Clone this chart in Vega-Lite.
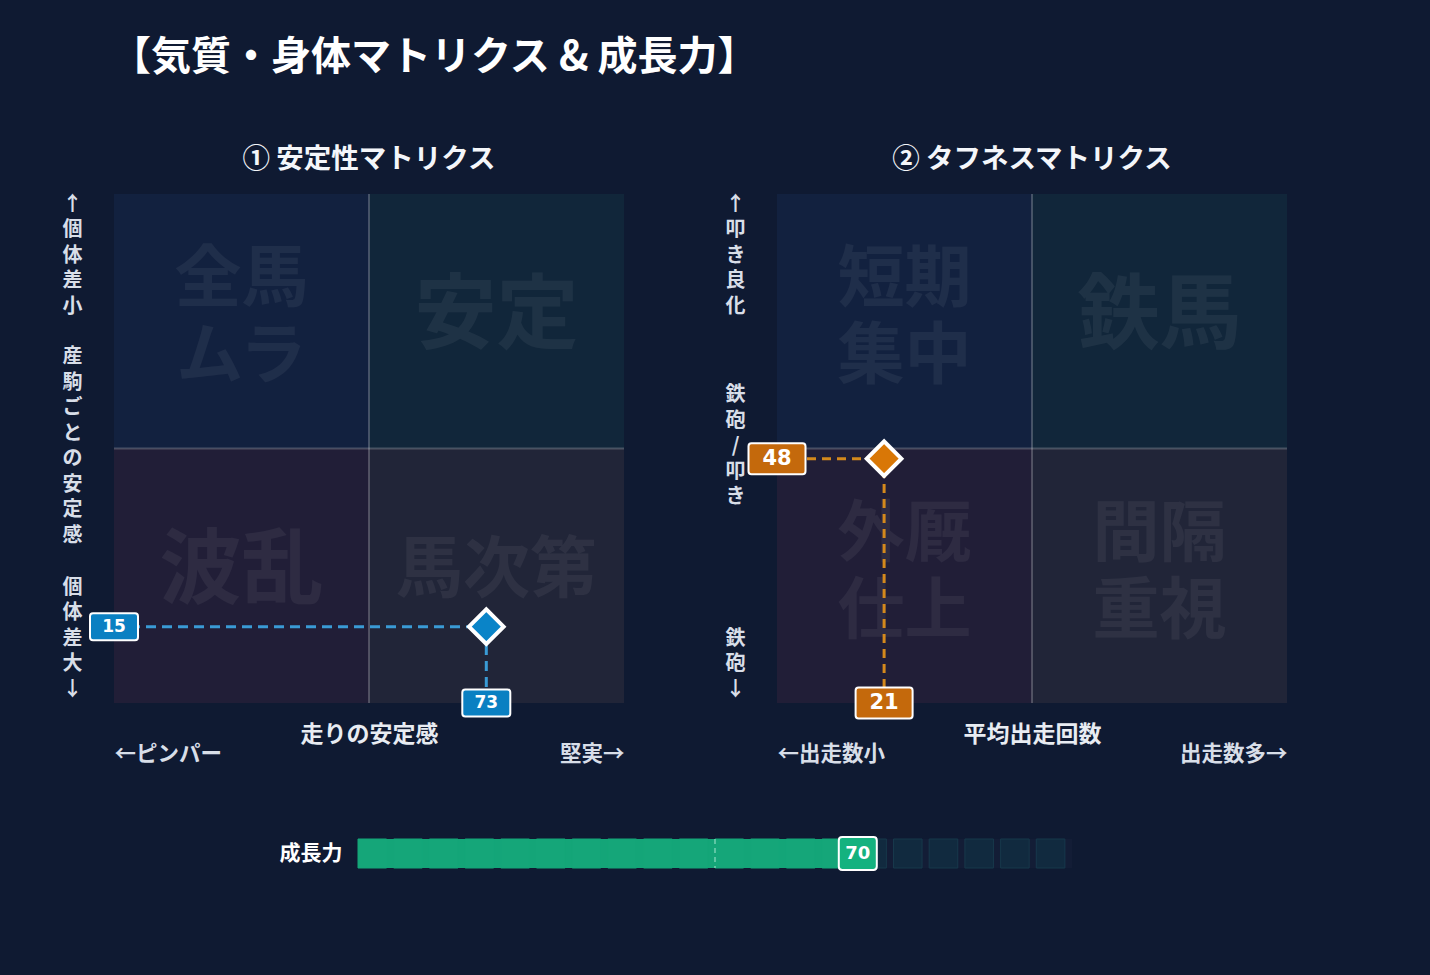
{
  "$schema": "https://vega.github.io/schema/vega-lite/v6.json",
  "background": "#0f1a32",
  "padding": {"left": 62, "top": 37, "right": 143, "bottom": 112},
  "title": {"text": "【気質・身体マトリクス & 成長力】", "anchor": "start", "frame": "group", "font": "Noto Sans CJK JP", "fontSize": 40, "fontWeight": "bold", "color": "#ffffff", "offset": 36, "dx": -3, "baseline": "alphabetic"},
  "config": {
    "view": {"stroke": null},
    "axis": {"grid": false, "domain": false, "ticks": false, "tickSize": 0, "labelFont": "Noto Sans CJK JP", "labelFontWeight": "bold", "labelFontSize": 20, "labelColor": "#d8dee8", "titleFont": "Noto Sans CJK JP", "titleFontWeight": "bold", "titleFontSize": 23, "titleColor": "#e8ecf2", "labelOverlap": false, "labelBound": false, "labelLimit": 400}
  },
  "spacing": 68,
  "vconcat": [
    {
      "bounds": "flush",
      "spacing": 153,
      "hconcat": [
        {
          "width": 510, "height": 509,
          "title": {"text": "① 安定性マトリクス", "frame": "group", "anchor": "middle", "font": "Noto Sans CJK JP", "fontSize": 27.5, "fontWeight": "bold", "color": "#f4f6fa", "offset": -2, "baseline": "alphabetic"},
          "data": {"values": [{"x": 73, "y": 15, "origin": 0, "mid": 50}]},
          "layer": [
            {
              "data": {"values": [
                {"quad": "TL", "label": "全馬\nムラ", "x0": 0, "x1": 50, "y0": 50, "y1": 100, "cx": 25, "cy": 75},
                {"quad": "TR", "label": "安定", "x0": 50, "x1": 100, "y0": 50, "y1": 100, "cx": 75, "cy": 75},
                {"quad": "BL", "label": "波乱", "x0": 0, "x1": 50, "y0": 0, "y1": 50, "cx": 25, "cy": 25},
                {"quad": "BR", "label": "馬次第", "x0": 50, "x1": 100, "y0": 0, "y1": 50, "cx": 75, "cy": 25}
              ]},
              "layer": [
                {
                  "mark": {"type": "rect"},
                  "encoding": {
                    "x": {"field": "x0", "type": "quantitative", "scale": {"domain": [0, 100], "nice": false, "zero": false},
                      "axis": {"values": [0, 100], "labelExpr": "datum.value == 0 ? '←ピンパー' : '堅実→'", "labelFlush": true, "labelPadding": 51, "labelBaseline": "middle", "labelFontSize": 21.5, "title": "走りの安定感", "titleY": 31, "titleBaseline": "middle"}},
                    "x2": {"field": "x1"},
                    "y": {"field": "y0", "type": "quantitative", "scale": {"domain": [0, 100], "nice": false, "zero": false},
                      "axis": {"values": [0, 50, 100], "labelExpr": "datum.value == 100 ? split('↑個体差小', '') : datum.value == 50 ? split('産駒ごとの安定感', '') : split('個体差大↓', '')", "labelFlush": false, "labelBaseline": "top", "labelAlign": "center", "labelPadding": 42, "labelLineHeight": 25.5, "labelOffset": {"condition": [{"test": "datum.value == 50", "value": -102}, {"test": "datum.value == 0", "value": -126}], "value": 0}, "title": null}},
                    "y2": {"field": "y1"},
                    "color": {"field": "quad", "type": "nominal", "scale": {"domain": ["TL", "TR", "BL", "BR"], "range": ["#12213f", "#11263a", "#211e37", "#212538"]}, "legend": null}
                  }
                },
                {
                  "transform": [{"filter": "length(datum.label) < 5"}],
                  "mark": {"type": "text", "font": "Noto Sans CJK JP", "fontWeight": "bold", "color": "#ffffff", "opacity": 0.055, "baseline": "middle", "align": "center", "dy": -4},
                  "encoding": {
                    "x": {"field": "cx", "type": "quantitative"},
                    "y": {"field": "cy", "type": "quantitative"},
                    "text": {"field": "label"},
                    "size": {"condition": {"test": "length(datum.label) == 2", "value": 82}, "value": 67}
                  }
                },
                {
                  "transform": [{"filter": "length(datum.label) == 5"}],
                  "mark": {"type": "text", "font": "Noto Sans CJK JP", "fontWeight": "bold", "color": "#ffffff", "opacity": 0.055, "lineBreak": "\n", "lineHeight": 77, "baseline": "middle", "align": "center", "dy": -40, "fontSize": 67},
                  "encoding": {
                    "x": {"field": "cx", "type": "quantitative"},
                    "y": {"field": "cy", "type": "quantitative"},
                    "text": {"field": "label"}
                  }
                }
              ]
            },
            {"mark": {"type": "rule", "color": "#ffffff", "opacity": 0.22, "strokeWidth": 2}, "encoding": {"x": {"field": "mid", "type": "quantitative"}}},
            {"mark": {"type": "rule", "color": "#ffffff", "opacity": 0.22, "strokeWidth": 2}, "encoding": {"y": {"field": "mid", "type": "quantitative"}}},
            {"mark": {"type": "rule", "color": "#3a9bd5", "strokeWidth": 3, "strokeDash": [10, 6]}, "encoding": {"x": {"field": "origin", "type": "quantitative"}, "x2": {"field": "x"}, "y": {"field": "y", "type": "quantitative"}}},
            {"mark": {"type": "rule", "color": "#3a9bd5", "strokeWidth": 3, "strokeDash": [10, 6]}, "encoding": {"x": {"field": "x", "type": "quantitative"}, "y": {"field": "origin", "type": "quantitative"}, "y2": {"field": "y"}}},
            {"mark": {"type": "point", "shape": "diamond", "size": 1200, "filled": true, "fill": "#0a84c8", "stroke": "#ffffff", "strokeWidth": 4, "opacity": 1}, "encoding": {"x": {"field": "x", "type": "quantitative"}, "y": {"field": "y", "type": "quantitative"}}},
            {"mark": {"type": "point", "shape": "M-0.875,-0.5625L0.875,-0.5625Q1,-0.5625 1,-0.4375L1,0.4375Q1,0.5625 0.875,0.5625L-0.875,0.5625Q-1,0.5625 -1,0.4375L-1,-0.4375Q-1,-0.5625 -0.875,-0.5625Z", "size": 2304, "filled": true, "fill": "#0a80c2", "stroke": "#ffffff", "strokeWidth": 2, "opacity": 1}, "encoding": {"x": {"field": "origin", "type": "quantitative"}, "y": {"field": "y", "type": "quantitative"}}},
            {"mark": {"type": "text", "font": "DejaVu Sans", "fontWeight": "bold", "fontSize": 17, "color": "#ffffff", "baseline": "middle", "align": "center"}, "encoding": {"x": {"field": "origin", "type": "quantitative"}, "y": {"field": "y", "type": "quantitative"}, "text": {"field": "y", "type": "quantitative"}}},
            {"mark": {"type": "point", "shape": "M-0.875,-0.5625L0.875,-0.5625Q1,-0.5625 1,-0.4375L1,0.4375Q1,0.5625 0.875,0.5625L-0.875,0.5625Q-1,0.5625 -1,0.4375L-1,-0.4375Q-1,-0.5625 -0.875,-0.5625Z", "size": 2304, "filled": true, "fill": "#0a80c2", "stroke": "#ffffff", "strokeWidth": 2, "opacity": 1}, "encoding": {"x": {"field": "x", "type": "quantitative"}, "y": {"field": "origin", "type": "quantitative"}}},
            {"mark": {"type": "text", "font": "DejaVu Sans", "fontWeight": "bold", "fontSize": 17, "color": "#ffffff", "baseline": "middle", "align": "center"}, "encoding": {"x": {"field": "x", "type": "quantitative"}, "y": {"field": "origin", "type": "quantitative"}, "text": {"field": "x", "type": "quantitative"}}}
          ]
        },
        {
          "width": 510, "height": 509,
          "title": {"text": "② タフネスマトリクス", "frame": "group", "anchor": "middle", "font": "Noto Sans CJK JP", "fontSize": 27.5, "fontWeight": "bold", "color": "#f4f6fa", "offset": -2, "baseline": "alphabetic"},
          "data": {"values": [{"x": 21, "y": 48, "origin": 0, "mid": 50}]},
          "layer": [
            {
              "data": {"values": [
                {"quad": "TL", "label": "短期\n集中", "x0": 0, "x1": 50, "y0": 50, "y1": 100, "cx": 25, "cy": 75},
                {"quad": "TR", "label": "鉄馬", "x0": 50, "x1": 100, "y0": 50, "y1": 100, "cx": 75, "cy": 75},
                {"quad": "BL", "label": "外厩\n仕上", "x0": 0, "x1": 50, "y0": 0, "y1": 50, "cx": 25, "cy": 25},
                {"quad": "BR", "label": "間隔\n重視", "x0": 50, "x1": 100, "y0": 0, "y1": 50, "cx": 75, "cy": 25}
              ]},
              "layer": [
                {
                  "mark": {"type": "rect"},
                  "encoding": {
                    "x": {"field": "x0", "type": "quantitative", "scale": {"domain": [0, 100], "nice": false, "zero": false},
                      "axis": {"values": [0, 100], "labelExpr": "datum.value == 0 ? '←出走数小' : '出走数多→'", "labelFlush": true, "labelPadding": 51, "labelBaseline": "middle", "labelFontSize": 21.5, "title": "平均出走回数", "titleY": 31, "titleBaseline": "middle"}},
                    "x2": {"field": "x1"},
                    "y": {"field": "y0", "type": "quantitative", "scale": {"domain": [0, 100], "nice": false, "zero": false},
                      "axis": {"values": [0, 50, 100], "labelExpr": "datum.value == 100 ? split('↑叩き良化', '') : datum.value == 50 ? split('鉄砲/叩き', '') : split('鉄砲↓', '')", "labelFlush": false, "labelBaseline": "top", "labelAlign": "center", "labelPadding": 42, "labelLineHeight": 25.5, "labelOffset": {"condition": [{"test": "datum.value == 50", "value": -64}, {"test": "datum.value == 0", "value": -75}], "value": 0}, "title": null}},
                    "y2": {"field": "y1"},
                    "color": {"field": "quad", "type": "nominal", "scale": {"domain": ["TL", "TR", "BL", "BR"], "range": ["#12213f", "#11263a", "#211e37", "#212538"]}, "legend": null}
                  }
                },
                {
                  "transform": [{"filter": "length(datum.label) < 5"}],
                  "mark": {"type": "text", "font": "Noto Sans CJK JP", "fontWeight": "bold", "color": "#ffffff", "opacity": 0.055, "baseline": "middle", "align": "center", "dy": -4},
                  "encoding": {
                    "x": {"field": "cx", "type": "quantitative"},
                    "y": {"field": "cy", "type": "quantitative"},
                    "text": {"field": "label"},
                    "size": {"condition": {"test": "length(datum.label) == 2", "value": 82}, "value": 67}
                  }
                },
                {
                  "transform": [{"filter": "length(datum.label) == 5"}],
                  "mark": {"type": "text", "font": "Noto Sans CJK JP", "fontWeight": "bold", "color": "#ffffff", "opacity": 0.055, "lineBreak": "\n", "lineHeight": 77, "baseline": "middle", "align": "center", "dy": -40, "fontSize": 67},
                  "encoding": {
                    "x": {"field": "cx", "type": "quantitative"},
                    "y": {"field": "cy", "type": "quantitative"},
                    "text": {"field": "label"}
                  }
                }
              ]
            },
            {"mark": {"type": "rule", "color": "#ffffff", "opacity": 0.22, "strokeWidth": 2}, "encoding": {"x": {"field": "mid", "type": "quantitative"}}},
            {"mark": {"type": "rule", "color": "#ffffff", "opacity": 0.22, "strokeWidth": 2}, "encoding": {"y": {"field": "mid", "type": "quantitative"}}},
            {"mark": {"type": "rule", "color": "#d4891c", "strokeWidth": 3, "strokeDash": [9, 6]}, "encoding": {"x": {"field": "origin", "type": "quantitative"}, "x2": {"field": "x"}, "y": {"field": "y", "type": "quantitative"}}},
            {"mark": {"type": "rule", "color": "#d4891c", "strokeWidth": 3, "strokeDash": [9, 6]}, "encoding": {"x": {"field": "x", "type": "quantitative"}, "y": {"field": "origin", "type": "quantitative"}, "y2": {"field": "y"}}},
            {"mark": {"type": "point", "shape": "diamond", "size": 1200, "filled": true, "fill": "#d97706", "stroke": "#ffffff", "strokeWidth": 4, "opacity": 1}, "encoding": {"x": {"field": "x", "type": "quantitative"}, "y": {"field": "y", "type": "quantitative"}}},
            {"mark": {"type": "point", "shape": "M-0.895,-0.544L0.895,-0.544Q1,-0.544 1,-0.439L1,0.439Q1,0.544 0.895,0.544L-0.895,0.544Q-1,0.544 -1,0.439L-1,-0.439Q-1,-0.544 -0.895,-0.544Z", "size": 3249, "filled": true, "fill": "#c4690c", "stroke": "#ffffff", "strokeWidth": 2, "opacity": 1}, "encoding": {"x": {"field": "origin", "type": "quantitative"}, "y": {"field": "y", "type": "quantitative"}}},
            {"mark": {"type": "text", "font": "DejaVu Sans", "fontWeight": "bold", "fontSize": 21, "color": "#ffffff", "baseline": "middle", "align": "center"}, "encoding": {"x": {"field": "origin", "type": "quantitative"}, "y": {"field": "y", "type": "quantitative"}, "text": {"field": "y", "type": "quantitative"}}},
            {"mark": {"type": "point", "shape": "M-0.895,-0.544L0.895,-0.544Q1,-0.544 1,-0.439L1,0.439Q1,0.544 0.895,0.544L-0.895,0.544Q-1,0.544 -1,0.439L-1,-0.439Q-1,-0.544 -0.895,-0.544Z", "size": 3249, "filled": true, "fill": "#c4690c", "stroke": "#ffffff", "strokeWidth": 2, "opacity": 1}, "encoding": {"x": {"field": "x", "type": "quantitative"}, "y": {"field": "origin", "type": "quantitative"}}},
            {"mark": {"type": "text", "font": "DejaVu Sans", "fontWeight": "bold", "fontSize": 21, "color": "#ffffff", "baseline": "middle", "align": "center"}, "encoding": {"x": {"field": "x", "type": "quantitative"}, "y": {"field": "origin", "type": "quantitative"}, "text": {"field": "x", "type": "quantitative"}}}
          ]
        }
      ]
    },
    {
      "width": 958, "height": 29,
      "data": {"values": [{"metric": "成長力", "value": 70, "min": 0, "max": 100, "mid": 50}]},
      "layer": [
        {
          "mark": {"type": "rect", "color": "#131d36"},
          "encoding": {
            "x": {"field": "min", "type": "quantitative", "scale": {"domain": [0, 100], "range": [244, 958], "nice": false, "zero": false}, "axis": null},
            "x2": {"field": "max"},
            "y": {"field": "metric", "type": "nominal", "scale": {"paddingInner": 0, "paddingOuter": 0}, "axis": {"title": null, "offset": -230, "labelPadding": 2, "labelAlign": "right", "labelBaseline": "middle", "labelColor": "#ffffff", "labelFontSize": 21}}
          }
        },
        {
          "mark": {"type": "rect", "color": "#14a578"},
          "encoding": {
            "x": {"field": "min", "type": "quantitative"},
            "x2": {"field": "value"},
            "y": {"field": "metric", "type": "nominal"}
          }
        },
        {
          "data": {"values": [
            {"lo": 0, "hi": 4}, {"lo": 5, "hi": 9}, {"lo": 10, "hi": 14}, {"lo": 15, "hi": 19}, {"lo": 20, "hi": 24},
            {"lo": 25, "hi": 29}, {"lo": 30, "hi": 34}, {"lo": 35, "hi": 39}, {"lo": 40, "hi": 44}, {"lo": 45, "hi": 49},
            {"lo": 50, "hi": 54}, {"lo": 55, "hi": 59}, {"lo": 60, "hi": 64}, {"lo": 65, "hi": 69}, {"lo": 70, "hi": 74},
            {"lo": 75, "hi": 79}, {"lo": 80, "hi": 84}, {"lo": 85, "hi": 89}, {"lo": 90, "hi": 94}, {"lo": 95, "hi": 99}
          ]},
          "mark": {"type": "rect", "strokeWidth": 1},
          "encoding": {
            "x": {"field": "lo", "type": "quantitative"},
            "x2": {"field": "hi"},
            "color": {"condition": {"test": "datum.lo < 70", "value": "#15a679"}, "value": "#112a3f"},
            "stroke": {"condition": {"test": "datum.lo < 70", "value": "#15a679"}, "value": "#17384b"}
          }
        },
        {"mark": {"type": "rule", "color": "#b5eed8", "opacity": 0.6, "strokeDash": [5, 4], "strokeWidth": 1.5}, "encoding": {"x": {"field": "mid", "type": "quantitative"}}},
        {
          "mark": {"type": "point", "shape": "M-0.82,-0.868L0.82,-0.868Q1,-0.868 1,-0.688L1,0.688Q1,0.868 0.82,0.868L-0.82,0.868Q-1,0.868 -1,0.688L-1,-0.688Q-1,-0.868 -0.82,-0.868Z", "size": 1444, "filled": true, "fill": "#14b27f", "stroke": "#ffffff", "strokeWidth": 2, "opacity": 1},
          "encoding": {"x": {"field": "value", "type": "quantitative"}, "y": {"field": "metric", "type": "nominal"}}
        },
        {
          "mark": {"type": "text", "font": "DejaVu Sans", "fontWeight": "bold", "fontSize": 18, "color": "#ffffff", "baseline": "middle", "align": "center"},
          "encoding": {"x": {"field": "value", "type": "quantitative"}, "y": {"field": "metric", "type": "nominal"}, "text": {"field": "value", "type": "quantitative"}}
        }
      ]
    }
  ]
}
